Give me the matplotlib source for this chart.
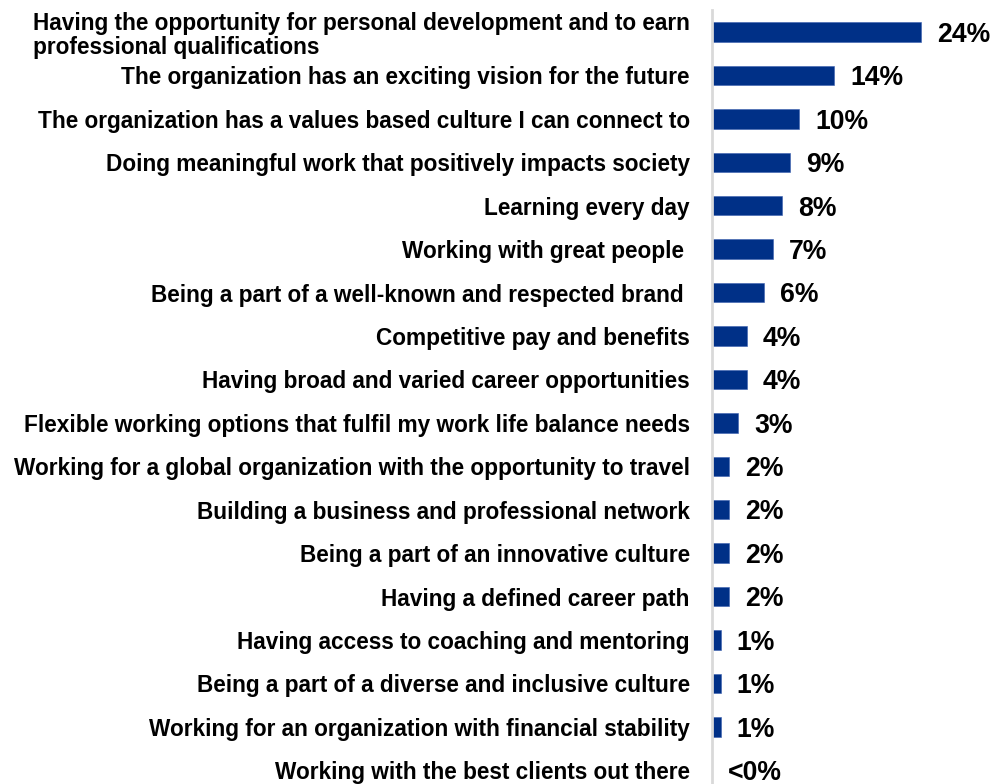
import matplotlib
matplotlib.use("Agg")
import matplotlib.pyplot as plt

plt.rcParams['font.family'] = ['Liberation Sans', 'DejaVu Sans']

categories = [
    "Having the opportunity for personal development and to earn\nprofessional qualifications",
    "The organization has an exciting vision for the future",
    "The organization has a values based culture I can connect to",
    "Doing meaningful work that positively impacts society",
    "Learning every day",
    "Working with great people ",
    "Being a part of a well-known and respected brand ",
    "Competitive pay and benefits",
    "Having broad and varied career opportunities",
    "Flexible working options that fulfil my work life balance needs",
    "Working for a global organization with the opportunity to travel",
    "Building a business and professional network",
    "Being a part of an innovative culture",
    "Having a defined career path",
    "Having access to coaching and mentoring",
    "Being a part of a diverse and inclusive culture",
    "Working for an organization with financial stability",
    "Working with the best clients out there",
]
values = [24, 14, 10, 9, 8, 7, 6, 4, 4, 3, 2, 2, 2, 2, 1, 1, 1, 0]
value_labels = ["24%", "14%", "10%", "9%", "8%", "7%", "6%", "4%", "4%", "3%",
                "2%", "2%", "2%", "2%", "1%", "1%", "1%", "<0%"]

W, H = 991, 784
fig = plt.figure(figsize=(W / 100, H / 100), dpi=100)
ax_left = 712 / W
ax_top = 1 - 10.3 / H
ax_bottom = -8 / H
ax = fig.add_axes([ax_left, ax_bottom, 1 - ax_left, ax_top - ax_bottom])

n = len(categories)
ypos = list(range(n))
ax.barh(ypos, values, height=0.45, color="#003087", edgecolor="#3a5fb0", linewidth=0.4)

ax.set_ylim(n - 0.5, -0.5)
ax.set_xlim(0, 24 * (W - 712) / (921 - 712))

ax.set_yticks(ypos)
ax.set_yticklabels(categories, fontsize=16.3, fontweight="bold",
                   multialignment="left", linespacing=1.1)
ax.tick_params(axis="y", length=0, pad=16)
ax.set_xticks([])

for s in ["top", "right", "bottom"]:
    ax.spines[s].set_visible(False)
ax.spines["left"].set_color("#d9d9d9")
ax.spines["left"].set_linewidth(2)

for y, v, lab in zip(ypos, values, value_labels):
    ax.annotate(lab, xy=(v, y), xytext=(11.5, -2), textcoords="offset points",
                ha="left", va="center", fontsize=19.2, fontweight="bold")

fig.savefig("out.png", dpi=100)
